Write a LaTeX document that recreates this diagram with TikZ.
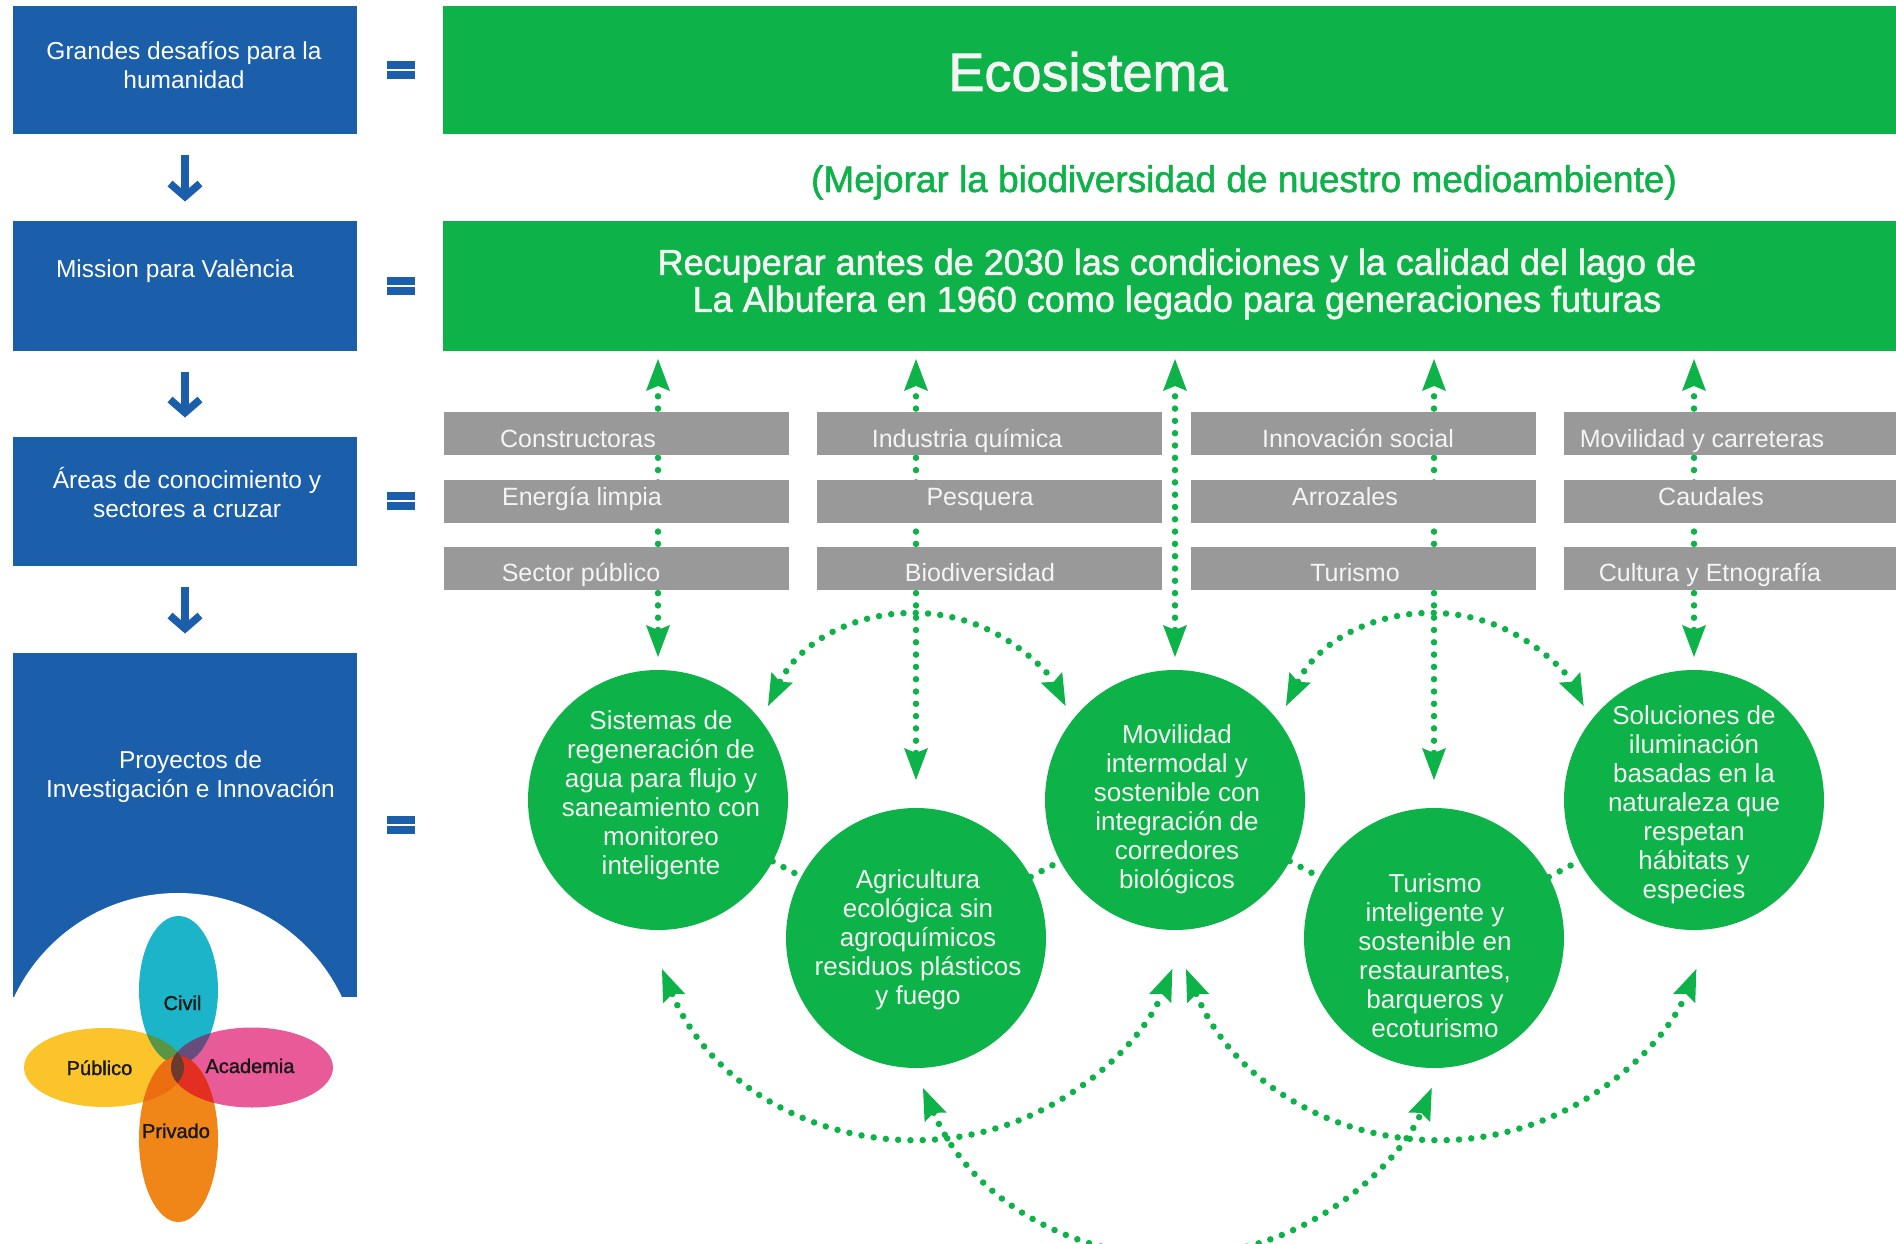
\documentclass[tikz,border=0pt]{standalone}
\usepackage{fontspec}
\setmainfont{Liberation Sans}
\newfontfamily\headfont[FakeBold=1.5]{Liberation Sans}
\usetikzlibrary{arrows.meta,calc}
\definecolor{vblue}{HTML}{1B5FAA}
\definecolor{vgreen}{HTML}{0DB248}
\definecolor{vgray}{HTML}{999999}
\definecolor{vtext}{HTML}{F4F4F4}
\definecolor{vcyan}{HTML}{1CB4C9}
\definecolor{vyellow}{HTML}{FCC42B}
\definecolor{vpink}{HTML}{E95B98}
\definecolor{vorange}{HTML}{F08618}
\definecolor{ovCP}{RGB}{88,150,68}
\definecolor{ovCA}{RGB}{101,77,126}
\definecolor{ovPP}{RGB}{236,110,16}
\definecolor{ovAP}{RGB}{227,47,33}
\definecolor{ovCe}{RGB}{107,58,44}
\tikzset{
  bluebox/.style={fill=vblue, draw=none, inner sep=0pt, outer sep=0pt, minimum width=344pt},
  greenbox/.style={fill=vgreen, draw=none, inner sep=0pt, outer sep=0pt, minimum width=1453pt},
  graybox/.style={fill=vgray, draw=none, inner sep=0pt, outer sep=0pt, minimum width=345pt, minimum height=43pt},
  btext/.style={text=white, align=center, inner sep=0pt, font=\fontsize{24.5}{29}\selectfont},
  gtext/.style={text=vtext, anchor=base, inner sep=0pt, font=\fontsize{25}{30}\selectfont},
  circ/.style={circle, fill=vgreen, draw=none, minimum size=260pt, inner sep=0pt, outer sep=0pt},
  ctext/.style={text=vtext, align=center, inner sep=0pt, font=\fontsize{26}{29}\selectfont},
  vlabel/.style={text=black!90, anchor=base, inner sep=0pt, font=\headfont\fontsize{20}{24}\selectfont},
  barrow/.style={draw=vblue, line width=7.5pt, -{Straight Barb[length=13pt,width=30pt,sharp]}, shorten <=21pt, shorten >=19.5pt},
  dotline/.style={draw=vgreen, line width=6.5pt, line cap=round, dash pattern=on 0pt off 12.3pt},
  >={Stealth[length=32pt,width=24pt,inset=5pt,line width=0pt]},
}
\begin{document}
\begin{tikzpicture}[x=1pt,y=1pt]
\useasboundingbox (0,0) rectangle (1896,-1244);
\clip (0,0) rectangle (1896,-1244);

% ---------- left column ----------
\node[bluebox, minimum height=128pt] (b1) at (185,-70) {};
\node[bluebox, minimum height=130pt] (b2) at (185,-286) {};
\node[bluebox, minimum height=129pt] (b3) at (185,-501.5) {};
\node[bluebox, minimum height=344pt] (b4) at (185,-825) {};
\fill[white] (178,-1074) circle [radius=181];

\node[btext] (b1t) at (184,-65.5) {Grandes desafíos para la\\humanidad};
\node[btext] (b2t) at (175,-271.5) {Mission para València};
\node[btext] (b3t) at (187,-492) {Áreas de conocimiento y\\sectores a cruzar};
\node[btext] (b4t) at (190.5,-777) {Proyectos de\\Investigación e Innovación};

\draw[barrow] (b1) -- (b2);
\draw[barrow] (b2) -- (b3);
\draw[barrow] (b3) -- (b4);

\foreach \yy in {70.5,286,501,825}{
  \fill[vblue] (387,{-\yy+9}) rectangle (415,{-\yy+1});
  \fill[vblue] (387,{-\yy-1}) rectangle (415,{-\yy-9});
}

% ---------- Venn flower ----------
\fill[vyellow] (104,-1067.5) ellipse [x radius=80, y radius=39.5];
\fill[vpink] (252,-1067.5) ellipse [x radius=81, y radius=40];
\fill[vcyan] (178.5,-990) ellipse [x radius=39.5, y radius=74];
\fill[vorange] (178.5,-1139) ellipse [x radius=39.5, y radius=83];
\begin{scope}
  \clip (178.5,-990) ellipse [x radius=39.5, y radius=74];
  \fill[ovCP] (104,-1067.5) ellipse [x radius=80, y radius=39.5];
  \fill[ovCA] (252,-1067.5) ellipse [x radius=81, y radius=40];
  \fill[ovCe] (178.5,-1139) ellipse [x radius=39.5, y radius=83];
\end{scope}
\begin{scope}
  \clip (178.5,-1139) ellipse [x radius=39.5, y radius=83];
  \fill[ovPP] (104,-1067.5) ellipse [x radius=80, y radius=39.5];
  \fill[ovAP] (252,-1067.5) ellipse [x radius=81, y radius=40];
\end{scope}
\begin{scope}
  \clip (104,-1067.5) ellipse [x radius=80, y radius=39.5];
  \fill[ovCe] (252,-1067.5) ellipse [x radius=81, y radius=40];
\end{scope}
\node[vlabel] (vciv) at (182.5,-1010) {Civil};
\node[vlabel] (vpub) at (99.5,-1075) {Público};
\node[vlabel] (vaca) at (250,-1073) {Academia};
\node[vlabel] (vpri) at (176,-1138) {Privado};

% ---------- green header ----------
\node[greenbox, minimum height=128pt] (g1) at (1169.5,-70) {};
\node[greenbox, minimum height=130pt] (g2) at (1169.5,-286) {};
\node[text=vtext, anchor=base, inner sep=0pt, font=\headfont\fontsize{54}{60}\selectfont] (eco) at (1088,-91) {Ecosistema};
\node[text=vgreen, anchor=base, inner sep=0pt, font=\headfont\fontsize{37}{40}\selectfont] (sub) at (1244,-192) {(Mejorar la biodiversidad de nuestro medioambiente)};
\node[text=vtext, align=center, inner sep=0pt, font=\headfont\fontsize{36}{37}\selectfont] (mis) at (1177,-284) {Recuperar antes de 2030 las condiciones y la calidad del lago de\\La Albufera en 1960 como legado para generaciones futuras};

% ---------- circles ----------
\node[circ] (c1) at (658,-800) {};
\node[circ] (c2) at (916,-938) {};
\node[circ] (c3) at (1175,-800) {};
\node[circ] (c4) at (1434,-938) {};
\node[circ] (c5) at (1694,-800) {};

% ---------- vertical dotted arrows ----------
\draw[dotline,<->, shorten <=13pt, shorten >=8pt] (c1.north) -- (c1.north |- g2.south);
\draw[dotline,<->, shorten <=28pt, shorten >=8pt] (c2.north) -- (c2.north |- g2.south);
\draw[dotline,<->, shorten <=13pt, shorten >=8pt] (c3.north) -- (c3.north |- g2.south);
\draw[dotline,<->, shorten <=28pt, shorten >=8pt] (c4.north) -- (c4.north |- g2.south);
\draw[dotline,<->, shorten <=13pt, shorten >=8pt] (c5.north) -- (c5.north |- g2.south);

% ---------- top arcs ----------
\coordinate (ta1) at ($(c1)+(110,94)$);
\coordinate (tb1) at ($(c3)+(111,94)$);
\draw[dotline,<->] (ta1) arc[start angle=153.7, end angle=26.3, radius=166];
\draw[dotline,<->] (tb1) arc[start angle=153.7, end angle=26.3, radius=166];

% ---------- gray sector boxes ----------
\node[graybox] (s11) at (616,-433.5) {};
\node[graybox] (s12) at (616,-501.5) {};
\node[graybox] (s13) at (616,-568.5) {};
\node[graybox] (s21) at (989.5,-433.5) {};
\node[graybox] (s22) at (989.5,-501.5) {};
\node[graybox] (s23) at (989.5,-568.5) {};
\node[graybox] (s31) at (1363.5,-433.5) {};
\node[graybox] (s32) at (1363.5,-501.5) {};
\node[graybox] (s33) at (1363.5,-568.5) {};
\node[graybox] (s41) at (1736.5,-433.5) {};
\node[graybox] (s42) at (1736.5,-501.5) {};
\node[graybox] (s43) at (1736.5,-568.5) {};

\node[gtext] (t11) at (578,-447) {Constructoras};
\node[gtext] (t12) at (582,-505) {Energía limpia};
\node[gtext] (t13) at (581,-581) {Sector público};
\node[gtext] (t21) at (967,-447) {Industria química};
\node[gtext] (t22) at (980,-505) {Pesquera};
\node[gtext] (t23) at (980,-581) {Biodiversidad};
\node[gtext] (t31) at (1358,-447) {Innovación social};
\node[gtext] (t32) at (1345,-505) {Arrozales};
\node[gtext] (t33) at (1355,-581) {Turismo};
\node[gtext] (t41) at (1702,-447) {Movilidad y carreteras};
\node[gtext] (t42) at (1711,-505) {Caudales};
\node[gtext] (t43) at (1710,-581) {Cultura y Etnografía};

% ---------- links between circles ----------
\draw[dotline] (c1) -- (c2);
\draw[dotline] (c2) -- (c3);
\draw[dotline] (c3) -- (c4);
\draw[dotline] (c4) -- (c5);

% ---------- circle texts ----------
\node[ctext] (c1t) at (661,-795) {Sistemas de\\regeneración de\\agua para flujo y\\saneamiento con\\monitoreo\\inteligente};
\node[ctext] (c2t) at (918,-940) {Agricultura\\ecológica sin\\agroquímicos\\residuos plásticos\\y fuego};
\node[ctext] (c3t) at (1177,-809) {Movilidad\\intermodal y\\sostenible con\\integración de\\corredores\\biológicos};
\node[ctext] (c4t) at (1435,-956) {Turismo\\inteligente y\\sostenible en\\restaurantes,\\barqueros y\\ecoturismo};
\node[ctext] (c5t) at (1694,-805) {Soluciones de\\iluminación\\basadas en la\\naturaleza que\\respetan\\hábitats y\\especies};

% ---------- bottom arcs ----------
\coordinate (bl1) at ($(c1)+(4,-169)$);
\coordinate (bl2) at ($(c3)+(11,-169)$);
\coordinate (bb1) at ($(c2)+(7,-150)$);
\draw[dotline,<->] (bl1) arc[start angle=202.4, end angle=337.6, radius=276];
\draw[dotline,<->] (bl2) arc[start angle=202.4, end angle=337.6, radius=276];
\draw[dotline,<->] (bb1) arc[start angle=203.3, end angle=336.7, radius=277];
\end{tikzpicture}
\end{document}
